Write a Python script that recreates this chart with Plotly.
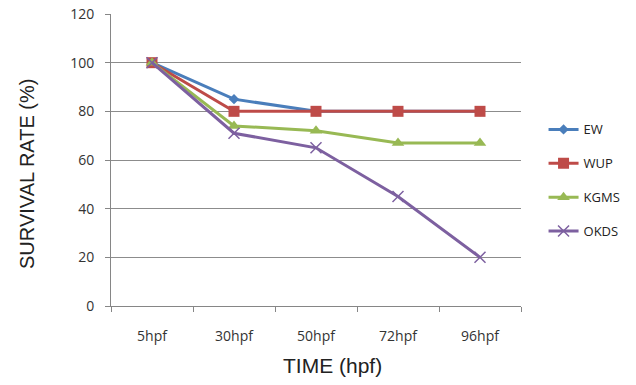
import plotly.graph_objects as go

categories = ["5hpf", "30hpf", "50hpf", "72hpf", "96hpf"]
ew = [100, 85, 80, 80, 80]
wup = [100, 80, 80, 80, 80]
kgms = [100, 74, 72, 67, 67]
okds = [100, 71, 65, 45, 20]

series = [
    ("EW", ew, "#4A7EBB", "diamond", 8, None),
    ("WUP", wup, "#BE4B48", "square", 11, None),
    ("KGMS", kgms, "#98B954", "triangle-up", 11, None),
    ("OKDS", okds, "#7D60A0", "x-thin", 11, 1.5),
]

fig = go.Figure()
for name, vals, color, sym, size, mlw in series:
    marker = dict(symbol=sym, size=size, color=color)
    if mlw:
        marker["line"] = dict(color=color, width=mlw)
    fig.add_trace(go.Scatter(
        x=categories, y=vals, name=name, mode="lines+markers",
        line=dict(color=color, width=3), marker=marker, legendgroup=name,
    ))

fig.update_layout(
    width=636, height=385,
    margin=dict(l=111, r=115, t=14, b=79, autoexpand=False),
    paper_bgcolor="white", plot_bgcolor="white",
    font=dict(family="Liberation Sans, Arial", color="#222"),
    legend=dict(x=1.055, y=0.43, xanchor="left", yanchor="middle",
                font=dict(family="Open Sans", size=13, color="#222"),
                tracegroupgap=14, itemwidth=30),
    xaxis=dict(
        type="category", range=[-0.5, 4.5], tickson="boundaries",
        ticks="outside", ticklen=5, tickcolor="#868686",
        showline=True, linecolor="#868686", linewidth=1,
        showgrid=False, ticklabelstandoff=17, automargin=False,
        tickfont=dict(family="Open Sans", size=14, color="#333"),
    ),
    yaxis=dict(
        range=[0, 120], dtick=20, ticks="outside", ticklen=5, tickcolor="#868686",
        showline=True, linecolor="#868686", linewidth=1,
        showgrid=True, gridcolor="#8C8C8C", gridwidth=1, zeroline=False,
        ticklabelstandoff=8, automargin=False,
        tickfont=dict(family="Open Sans", size=14, color="#333"),
    ),
    annotations=[
        dict(text="TIME (hpf)", xref="paper", yref="paper", x=0.541, y=-0.205,
             xanchor="center", yanchor="middle", showarrow=False,
             font=dict(family="Liberation Sans, Arial", size=21, color="#222")),
        dict(text="SURVIVAL RATE (%)", xref="paper", yref="paper", x=-0.205, y=0.452,
             xanchor="center", yanchor="middle", showarrow=False, textangle=-90,
             font=dict(family="Liberation Sans, Arial", size=20, color="#222")),
    ],
)

fig.write_html("out.html")
